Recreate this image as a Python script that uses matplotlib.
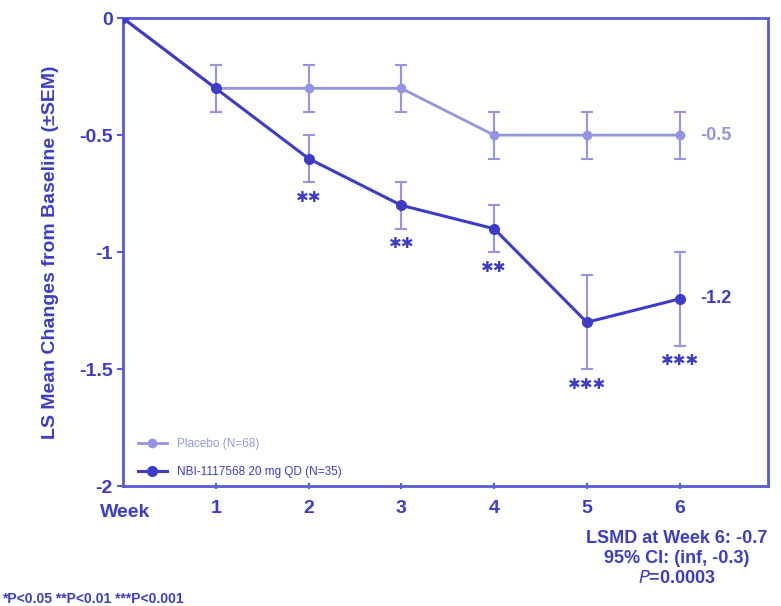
import numpy as np
import matplotlib.pyplot as plt

plt.rcParams['font.family'] = ['Liberation Sans', 'DejaVu Sans']

weeks = [0, 1, 2, 3, 4, 5, 6]
placebo = [0, -0.3, -0.3, -0.3, -0.5, -0.5, -0.5]
placebo_sem = [0, 0.1, 0.1, 0.1, 0.1, 0.1, 0.1]
drug = [0, -0.3, -0.6, -0.8, -0.9, -1.3, -1.2]
drug_sem = [0, 0.1, 0.1, 0.1, 0.1, 0.2, 0.2]
stars = [0, 0, 2, 2, 2, 3, 3]

dark = '#3c3cc8'
light = '#9494e0'
axcol = '#5a5ad2'

fig = plt.figure(figsize=(7.81, 6.06), dpi=100)
ax = fig.add_axes([0.1575, 0.198, 0.8255, 0.772])

ax.errorbar(weeks[1:], placebo[1:], yerr=placebo_sem[1:], fmt='none',
            ecolor=light, elinewidth=1.5, capsize=4, capthick=1.5, zorder=2)
ax.plot(weeks, placebo, color=light, lw=2, marker='o', ms=6, zorder=3,
        label='Placebo (N=68)')
ax.errorbar(weeks[1:], drug[1:], yerr=drug_sem[1:], fmt='none',
            ecolor=light, elinewidth=1.5, capsize=4, capthick=1.5, zorder=2)
ax.plot(weeks, drug, color=dark, lw=2.2, marker='o', ms=7, zorder=4,
        label='NBI-1117568 20 mg QD (N=35)')

# significance stars under the error bars
for w, v, s, n in zip(weeks, drug, drug_sem, stars):
    if n:
        ax.text(w, v - s - 0.065, '\u2731' * n, ha='center', va='center',
                color=dark, fontsize=11, family='DejaVu Sans')

ax.text(6.22, placebo[-1], '%g' % placebo[-1], color=light, fontsize=13,
        fontweight='bold', va='center', ha='left')
ax.text(6.22, drug[-1], '%g' % drug[-1], color=dark, fontsize=13,
        fontweight='bold', va='center', ha='left')

ax.set_xlim(0, 6.95)
ax.set_ylim(-2, 0)
ax.set_xticks([1, 2, 3, 4, 5, 6])
ax.set_yticks([0, -0.5, -1, -1.5, -2])
ax.set_yticklabels(['0', '-0.5', '-1', '-1.5', '-2'])
for sp in ax.spines.values():
    sp.set_color(axcol)
    sp.set_linewidth(2)
ax.tick_params(axis='both', colors=axcol, labelcolor=dark, labelsize=14,
               length=4, width=1.5)
ax.tick_params(axis='x', direction='inout', pad=8)
for lab in ax.get_xticklabels() + ax.get_yticklabels():
    lab.set_fontweight('bold')

ax.set_ylabel('LS Mean Changes from Baseline (\u00b1SEM)', color=dark,
              fontsize=14, fontweight='bold', labelpad=14)
fig.text(0.128, 0.155, 'Week', color=dark, fontsize=14, fontweight='bold',
         ha='left', va='center')

leg = ax.legend(loc='lower left', frameon=False, fontsize=8.5,
                handlelength=2.5, borderaxespad=0.3, labelspacing=1.3,
                bbox_to_anchor=(0.01, 0.0))
for t, c in zip(leg.get_texts(), [light, dark]):
    t.set_color(c)

fig.text(0.867, 0.112, 'LSMD at Week 6: -0.7', color=dark, fontsize=13,
         fontweight='bold', ha='center', va='center')
fig.text(0.867, 0.079, '95% CI: (inf, -0.3)', color=dark, fontsize=13,
         fontweight='bold', ha='center', va='center')
fig.text(0.867, 0.046, r'$\mathbf{\it{P}}$=0.0003', color=dark, fontsize=13,
         fontweight='bold', ha='center', va='center')
fig.text(0.003, 0.012, '*P<0.05 **P<0.01 ***P<0.001', color=dark,
         fontsize=10, fontweight='bold', ha='left', va='center')

fig.savefig('out.png', dpi=100)
